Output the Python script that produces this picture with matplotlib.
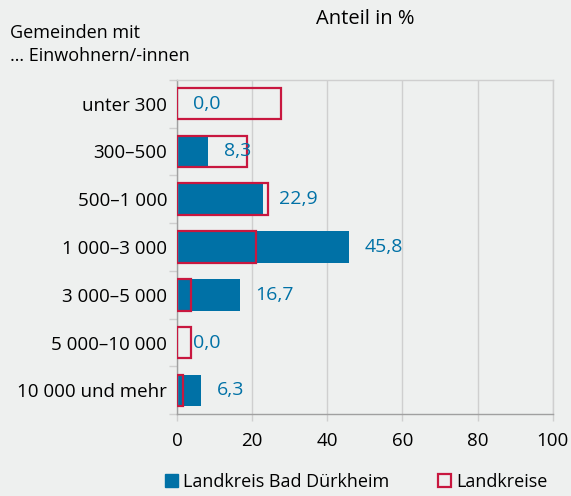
import numpy as np
from matplotlib import pyplot as plt
from matplotlib.patches import Patch

categories = ["unter 300", "300–500", "500–1 000", "1 000–3 000",
              "3 000–5 000", "5 000–10 000", "10 000 und mehr"]
kreis = [0.0, 8.3, 22.9, 45.8, 16.7, 0.0, 6.3]
landkreise = [27.8, 18.5, 24.3, 21.0, 3.6, 3.6, 1.6]
xticks = [0, 20, 40, 60, 80, 100]

blue = "#0071a6"
red = "#c8173f"
bg = "#eef0ef"
grid = "#cfcfcf"

plt.rcParams["font.family"] = ["Open Sans", "DejaVu Sans"]

fig = plt.figure(figsize=(5.71, 4.96), dpi=100, facecolor=bg)
ax = fig.add_axes([0.31, 0.165, 0.658, 0.674])
ax.set_facecolor(bg)

y = np.arange(len(categories))
h = 0.66
ax.barh(y, kreis, height=h, color=blue, zorder=2)
ax.barh(y, landkreise, height=h, facecolor="none", edgecolor=red,
        linewidth=1.6, zorder=3)

for yi, v in zip(y, kreis):
    ax.text(v + 4.2, yi, f"{v:.1f}".replace(".", ","), color=blue,
            fontsize=14, va="center", ha="left", zorder=4)

ax.set_xlim(0, 100)
ax.set_ylim(len(categories) - 0.5, -0.5)
ax.set_xticks(xticks)
ax.set_xticklabels([str(t) for t in xticks], fontsize=13.5)
ax.set_yticks(y)
ax.set_yticklabels(categories, fontsize=13.5)
ax.set_yticks(np.arange(len(categories) + 1) - 0.5, minor=True)
ax.tick_params(axis="y", which="major", length=0, pad=7)
ax.tick_params(axis="y", which="minor", length=6, color=grid, width=1)
ax.tick_params(axis="x", length=5, color=grid, width=1, pad=8)

ax.grid(axis="x", color=grid, linewidth=1, zorder=0)
for s in ax.spines.values():
    s.set_color(grid)
    s.set_linewidth(1)
ax.spines["left"].set_color("#a0a0a0")
ax.spines["bottom"].set_color("#a0a0a0")

fig.text(0.639, 0.962, "Anteil in %", fontsize=14.5, ha="center", va="center")
fig.text(0.018, 0.91, "Gemeinden mit\n… Einwohnern/-innen", fontsize=13,
         ha="left", va="center", linespacing=1.4)

handles = [Patch(facecolor=blue, edgecolor=blue),
           Patch(facecolor="none", edgecolor=red, linewidth=1.6)]
fig.legend(handles, ["Landkreis Bad Dürkheim", "Landkreise"],
           loc="center", bbox_to_anchor=(0.624, 0.028), ncol=2, frameon=False,
           fontsize=13, handlelength=0.7, handleheight=0.7, handletextpad=0.3,
           columnspacing=2.7, borderpad=0)

fig.savefig("out.png", dpi=100, facecolor=bg)
